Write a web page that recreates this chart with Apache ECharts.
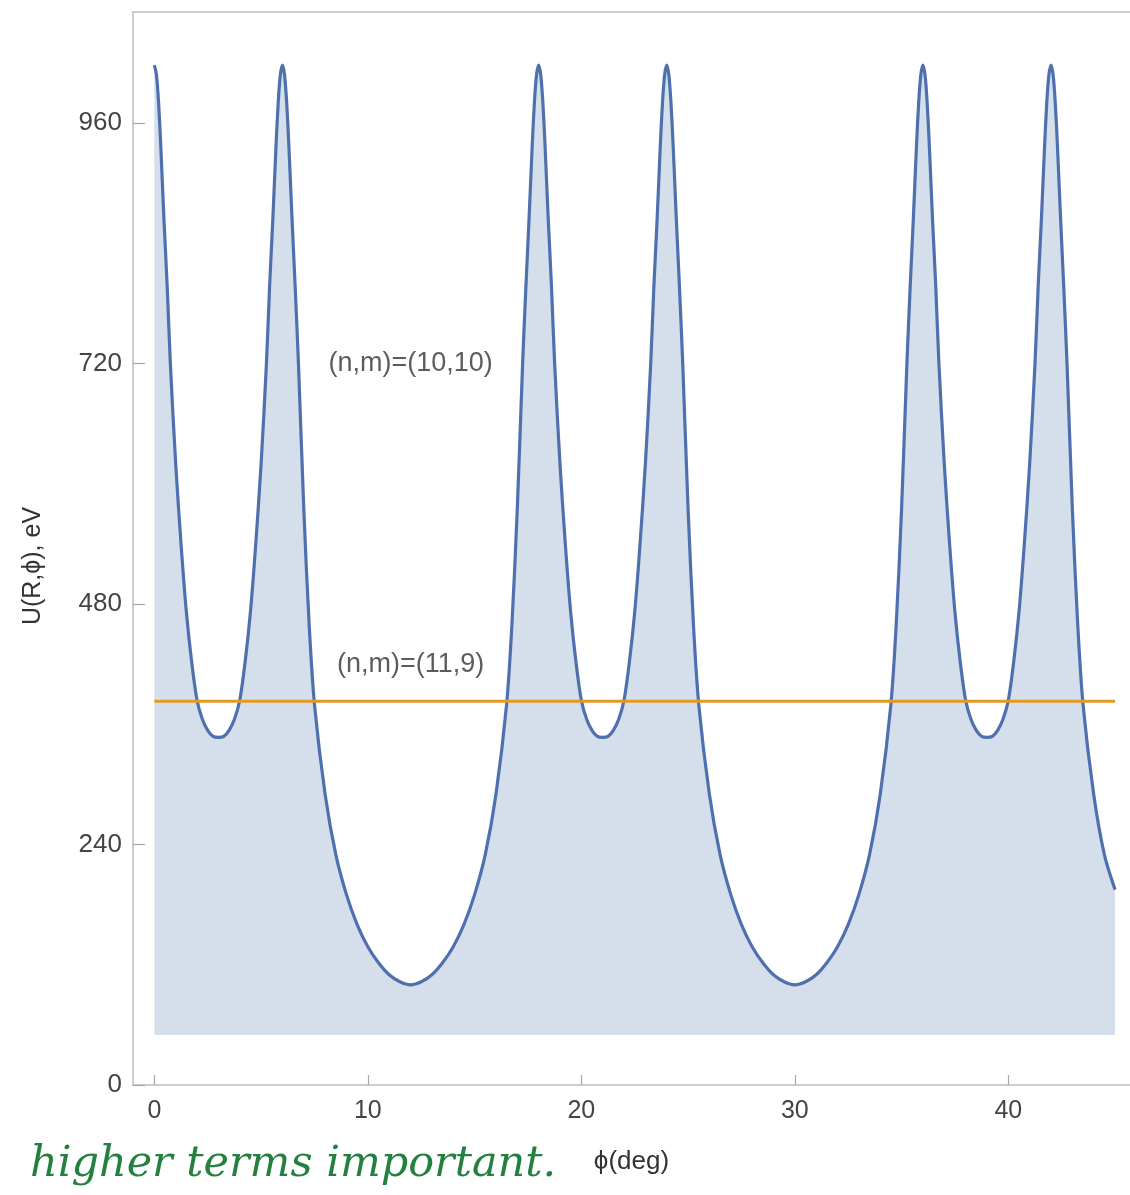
<!DOCTYPE html>
<html>
<head>
<meta charset="utf-8">
<script src="https://cdn.jsdelivr.net/npm/echarts@6/dist/echarts.min.js"></script>
<style>
  html, body { margin: 0; padding: 0; background: #ffffff; }
  #chart { width: 1130px; height: 1195px; }
</style>
</head>
<body>
<div id="chart"></div>
<script>
// ---- data ----
const phiDeg = [
  0, 0.1, 0.2, 0.3, 0.45, 0.6, 0.75, 1, 1.25, 1.5, 1.75, 2, 2.25, 2.5, 2.75, 3, 3.25, 3.5, 3.75, 4, 4.25, 4.5, 4.75, 5, 5.25, 5.4, 5.55, 5.7, 5.8, 5.9,
  6, 6.1, 6.2, 6.3, 6.45, 6.6, 6.75, 7, 7.25, 7.5, 8, 8.5, 9, 9.5, 10, 10.5, 11, 11.5, 12, 12.5, 13, 13.5, 14, 14.5, 15, 15.5, 16, 16.5, 16.75, 17, 17.25, 17.4, 17.55, 17.7, 17.8, 17.9,
  18, 18.1, 18.2, 18.3, 18.45, 18.6, 18.75, 19, 19.25, 19.5, 19.75, 20, 20.25, 20.5, 20.75, 21, 21.25, 21.5, 21.75, 22, 22.25, 22.5, 22.75, 23, 23.25, 23.4, 23.55, 23.7, 23.8, 23.9,
  24, 24.1, 24.2, 24.3, 24.45, 24.6, 24.75, 25, 25.25, 25.5, 26, 26.5, 27, 27.5, 28, 28.5, 29, 29.5, 30, 30.5, 31, 31.5, 32, 32.5, 33, 33.5, 34, 34.5, 34.75, 35, 35.25, 35.4, 35.55, 35.7, 35.8, 35.9,
  36, 36.1, 36.2, 36.3, 36.45, 36.6, 36.75, 37, 37.25, 37.5, 37.75, 38, 38.25, 38.5, 38.75, 39, 39.25, 39.5, 39.75, 40, 40.25, 40.5, 40.75, 41, 41.25, 41.4, 41.55, 41.7, 41.8, 41.9,
  42, 42.1, 42.2, 42.3, 42.45, 42.6, 42.75, 43, 43.25, 43.5, 44, 44.5, 45
];
const energyEV = [
  1018, 1008, 980, 938, 864, 798, 720, 620, 540, 472, 422, 384, 365, 354, 348, 347, 348, 354, 365, 384, 422, 472, 540, 620, 720, 798, 864, 938, 980, 1008,
  1018, 1008, 980, 938, 864, 795, 720, 575, 460, 380, 290, 230, 190, 160, 138, 122, 110, 103, 100, 103, 110, 122, 138, 160, 190, 230, 290, 380, 460, 575, 720, 795, 864, 938, 980, 1008,
  1018, 1008, 980, 938, 864, 798, 720, 620, 540, 472, 422, 384, 365, 354, 348, 347, 348, 354, 365, 384, 422, 472, 540, 620, 720, 798, 864, 938, 980, 1008,
  1018, 1008, 980, 938, 864, 795, 720, 575, 460, 380, 290, 230, 190, 160, 138, 122, 110, 103, 100, 103, 110, 122, 138, 160, 190, 230, 290, 380, 460, 575, 720, 795, 864, 938, 980, 1008,
  1018, 1008, 980, 938, 864, 798, 720, 620, 540, 472, 422, 384, 365, 354, 348, 347, 348, 354, 365, 384, 422, 472, 540, 620, 720, 798, 864, 938, 980, 1008,
  1018, 1008, 980, 938, 864, 795, 720, 575, 460, 380, 290, 230, 195
];
const levelPhi = [0, 45];          // (n,m)=(11,9) flat level
const levelEV = [383, 383];
const fillBaseEV = 50;
const xTickValues = [0, 10, 20, 30, 40];
const yTickValues = [0, 240, 480, 720, 960];
const labelTexts = ['(n,m)=(10,10)', '(n,m)=(11,9)'];
const labelPhi = [12, 12];
const labelEV = [720, 420];
const xAxisTitle = 'ϕ(deg)';
const yAxisTitle = 'U(R,ϕ), eV';
const noteText = 'higher terms important.';

// ---- build series ----
const curve = phiDeg.map((x, i) => [x, energyEV[i]]);
const level = levelPhi.map((x, i) => [x, levelEV[i]]);
const labels = labelPhi.map((x, i) => [x, labelEV[i], labelTexts[i]]);

const FONT = '"Liberation Sans", Arial, "DejaVu Sans", sans-serif';
const axisGrey = '#bdbdbd';

const chart = echarts.init(document.getElementById('chart'), null, { renderer: 'canvas' });
chart.setOption({
  animation: false,
  backgroundColor: '#ffffff',
  grid: { left: 133, top: 12, right: 0, bottom: 110, containLabel: false, outerBoundsMode: 'none' },
  xAxis: [
    {
      type: 'value', min: -1, max: 45.7, position: 'bottom',
      axisLine: { show: true, onZero: false, lineStyle: { color: axisGrey, width: 1.5 } },
      axisTick: { show: true, inside: true, length: 10, customValues: xTickValues, lineStyle: { color: '#a8a8a8', width: 1.2 } },
      axisLabel: { customValues: xTickValues, fontSize: 25, color: '#444', margin: 14, fontFamily: FONT },
      splitLine: { show: false },
      name: xAxisTitle, nameLocation: 'middle', nameGap: 64,
      nameTextStyle: { fontSize: 26, color: '#333', fontFamily: FONT }
    },
    {
      type: 'value', min: -1, max: 45.7, position: 'top',
      axisLine: { show: true, onZero: false, lineStyle: { color: axisGrey, width: 1.5 } },
      axisTick: { show: false }, axisLabel: { show: false }, splitLine: { show: false }
    }
  ],
  yAxis: {
    type: 'value', min: 0, max: 1071,
    axisLine: { show: true, onZero: false, lineStyle: { color: axisGrey, width: 1.5 } },
    axisTick: { show: true, inside: true, length: 12, customValues: yTickValues, lineStyle: { color: '#a8a8a8', width: 1.2 } },
    axisLabel: { customValues: yTickValues, fontSize: 26, color: '#444', margin: 11, fontFamily: FONT },
    splitLine: { show: false }
  },
  graphic: [
    {
      type: 'text', x: 33, y: 566, rotation: Math.PI / 2,
      style: { text: yAxisTitle, fontSize: 25, fill: '#333', fontFamily: FONT, align: 'center', verticalAlign: 'middle' }
    },
    {
      type: 'text', x: 30, y: 1165,
      style: { text: noteText, fontSize: 43, fill: '#23803f', fontStyle: 'italic', fontFamily: '"DejaVu Serif", "Liberation Serif", serif', align: 'left', verticalAlign: 'middle' }
    }
  ],
  series: [
    {
      type: 'line', data: curve, xAxisIndex: 0, showSymbol: false, smooth: 0.3, z: 3,
      lineStyle: { color: '#4f70ae', width: 3.2 },
      areaStyle: { color: '#d5deeb', opacity: 1, origin: fillBaseEV },
      silent: true
    },
    {
      type: 'line', data: level, xAxisIndex: 0, showSymbol: false, z: 4,
      lineStyle: { color: '#e39a25', width: 3 }, silent: true
    },
    {
      type: 'scatter', data: labels, xAxisIndex: 0, symbolSize: 0, z: 5, silent: true,
      label: { show: true, position: 'inside', formatter: p => p.data[2], fontSize: 27, color: '#333', fontFamily: FONT }
    }
  ]
});
</script>
</body>
</html>
